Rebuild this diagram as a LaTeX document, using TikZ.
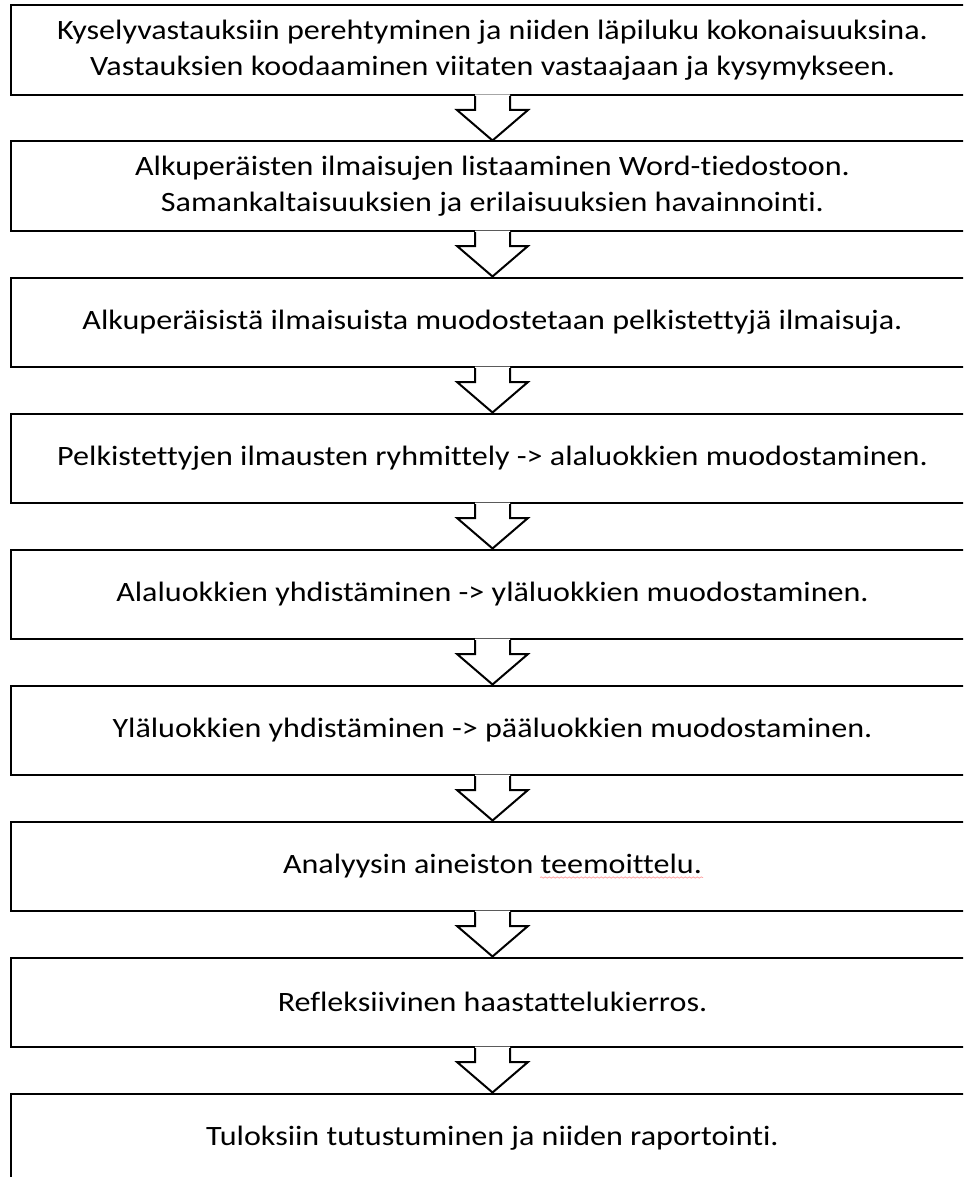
\documentclass[tikz,border=0pt]{standalone}
\usepackage{fontspec}
\setmainfont[FakeStretch=1.146,Ligatures=NoCommon]{Carlito}
\usetikzlibrary{calc,decorations.pathmorphing}
\begin{document}
\begin{tikzpicture}[x=1pt,y=-1pt,
  stepbox/.style={draw=black,line width=2pt,fill=white,rectangle,
    minimum width=963pt,minimum height=89.5pt,inner sep=0pt,align=center,
    font=\fontsize{28}{35.5}\selectfont},
  arrowline/.style={draw=black,line width=2pt,line join=miter}]
\useasboundingbox (0,0) rectangle (963,1177);
\clip (0,0) rectangle (963,1177);
\fill[white] (0,0) rectangle (963,1177);
\node[stepbox] (b1) at (492.5,50.25) {Kyselyvastauksiin perehtyminen ja niiden läpiluku kokonaisuuksina.\\Vastauksien koodaaminen viitaten vastaajaan ja kysymykseen.};
\node[stepbox] (b2) at (492.5,186.25) {Alkuperäisten ilmaisujen listaaminen Word-tiedostoon.\\Samankaltaisuuksien ja erilaisuuksien havainnointi.};
\node[stepbox] (b3) at (492.5,322.25) {Alkuperäisistä ilmaisuista muodostetaan pelkistettyjä ilmaisuja.};
\node[stepbox] (b4) at (492.5,458.25) {Pelkistettyjen ilmausten ryhmittely -> alaluokkien muodostaminen.};
\node[stepbox] (b5) at (492.5,594.25) {Alaluokkien yhdistäminen -> yläluokkien muodostaminen.};
\node[stepbox] (b6) at (492.5,730.25) {Yläluokkien yhdistäminen -> pääluokkien muodostaminen.};
\node[stepbox] (b7) at (492.5,866.25) {Analyysin aineiston teemoittelu.};
\node[stepbox] (b8) at (492.5,1002.25) {Refleksiivinen haastattelukierros.};
\node[stepbox] (b9) at (492.5,1138.25) {Tuloksiin tutustuminen ja niiden raportointi.};
\foreach \a/\b in {b1/b2,b2/b3,b3/b4,b4/b5,b5/b6,b6/b7,b7/b8,b8/b9}{
  \fill[white] ($(\a.south)+(-17.5,-1.5)$) -- ($(\a.south)+(-17.5,14)$) -- ($(\a.south)+(-35.5,14)$) -- (\b.north) -- ($(\a.south)+(35.5,14)$) -- ($(\a.south)+(17.5,14)$) -- ($(\a.south)+(17.5,-1.5)$) -- cycle;
  \draw[arrowline] ($(\a.south)+(-17.5,0)$) -- ($(\a.south)+(-17.5,14)$) -- ($(\a.south)+(-35.5,14)$) -- (\b.north) -- ($(\a.south)+(35.5,14)$) -- ($(\a.south)+(17.5,14)$) -- ($(\a.south)+(17.5,0)$);
}
\coordinate (u1) at (540,877.5);
\coordinate (u2) at (703,877.5);
\draw[red!35,line width=0.8pt,decorate,decoration={snake,amplitude=0.6pt,segment length=4pt}] (u1) -- (u2);
\end{tikzpicture}
\end{document}
